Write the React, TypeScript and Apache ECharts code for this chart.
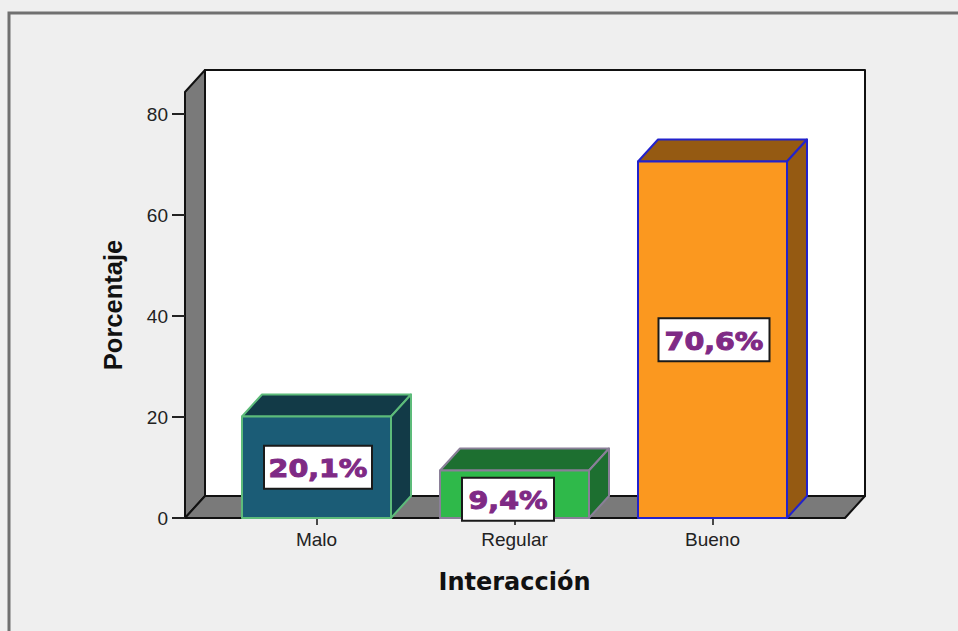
import React, { useEffect, useRef } from "react";
import * as echarts from "echarts";

const categories = ["Malo", "Regular", "Bueno"];
const porcentajes = [20.1, 9.4, 70.6];
const etiquetas = ["20,1%", "9,4%", "70,6%"];
const frontColors = ["#1B5C76", "#2FB94A", "#FB981F"];
const sideColors = ["#123A47", "#1D6F30", "#955A12"];
const edgeColors = ["#5DBB7A", "#8A7F98", "#2222CC"];
const labelDy = [0, 5, 0];
const labelDx = [0, -8, 0];
const labelW = [108, 92, 111];
const yTicks = [0, 20, 40, 60, 80];

const DX = 20;
const DY = 22;
const X0 = 185, X1 = 845, Y0 = 518, YT = 92;

function renderBar(params: any, api: any) {
  const i = api.value(0);
  const [cx, ty] = api.coord([i, api.value(1)]);
  const [, by] = api.coord([i, 0]);
  const [, my] = api.coord([i, api.value(1) / 2]);
  const w = api.size([1, 0])[0] * 0.7525;
  const l = cx - w / 2, r = cx + w / 2;
  const edge = { stroke: edgeColors[i], lineWidth: 2, lineJoin: "round" };
  const cy = my + labelDy[i];
  const tx = cx + labelDx[i];
  const lw = labelW[i];
  return {
    type: "group",
    children: [
      { type: "polygon", shape: { points: [[l, ty], [l + DX, ty - DY], [r + DX, ty - DY], [r, ty]] }, style: { fill: sideColors[i], ...edge } },
      { type: "polygon", shape: { points: [[r, ty], [r + DX, ty - DY], [r + DX, by - DY], [r, by]] }, style: { fill: sideColors[i], ...edge } },
      { type: "rect", shape: { x: l, y: ty, width: w, height: by - ty }, style: { fill: frontColors[i], ...edge } },
      { type: "rect", shape: { x: tx - lw / 2 + 1.5, y: cy - 21.5, width: lw, height: 43 }, style: { fill: "#FFFFFF", stroke: "#1A1A1A", lineWidth: 2 } },
      {
        type: "text",
        x: tx + 1.5,
        y: cy + 1,
        scaleX: 1.14,
        style: {
          text: etiquetas[i],
          fill: "#7F2A85",
          stroke: "#7F2A85",
          lineWidth: 1,
          font: "bold 25px 'DejaVu Sans'",
          align: "center",
          verticalAlign: "middle",
        },
      },
    ],
  };
}

export default function App() {
  const ref = useRef<HTMLDivElement>(null);
  useEffect(() => {
    document.body.style.margin = "0";
    document.body.style.background = "#EFEFEF";
    const chart = echarts.init(ref.current!, null, { renderer: "svg" });
    const wall = { stroke: "#111111", lineWidth: 2, lineJoin: "round" };
    chart.setOption({
      animation: false,
      backgroundColor: "#EFEFEF",
      grid: { left: 217.5, width: 594, top: YT, height: Y0 - YT },
      xAxis: {
        type: "category",
        data: categories,
        name: "Interacción",
        nameLocation: "middle",
        nameGap: 52,
        nameTextStyle: { fontFamily: "DejaVu Sans", fontWeight: "bold", fontSize: 24, color: "#111111" },
        axisLine: { show: false },
        axisTick: { show: true, alignWithLabel: true, length: 7, lineStyle: { color: "#111111", width: 1.5 } },
        axisLabel: { fontFamily: "Liberation Sans", fontSize: 19, color: "#222222", margin: 12 },
      },
      yAxis: {
        type: "value",
        min: 0,
        max: 84.36,
        interval: 20,
        offset: 32.5,
        name: "Porcentaje",
        nameLocation: "middle",
        nameGap: 59,
        nameRotate: 90,
        nameTextStyle: { fontFamily: "Liberation Sans", fontWeight: "bold", fontSize: 25.5, color: "#111111" },
        splitLine: { show: false },
        axisLine: { show: false },
        axisTick: { show: true, length: 13, lineStyle: { color: "#222222", width: 2 } },
        axisLabel: { fontFamily: "Liberation Sans", fontSize: 19, color: "#222222", margin: 17, showMaxLabel: false,
          formatter: (v: number) => (yTicks.includes(v) ? String(v) : "") },
      },
      graphic: [
        { type: "rect", z: 0, shape: { x: 9, y: 13, width: 960, height: 640 }, style: { fill: "#EFEFEF", stroke: "#707070", lineWidth: 3 } },
        { type: "rect", z: 0, shape: { x: X0 + DX, y: YT - DY, width: X1 - X0, height: Y0 - YT }, style: { fill: "#FFFFFF", ...wall } },
        { type: "polygon", z: 0, shape: { points: [[X0, YT], [X0 + DX, YT - DY], [X0 + DX, Y0 - DY], [X0, Y0]] }, style: { fill: "#7A7A7A", ...wall } },
        { type: "polygon", z: 0, shape: { points: [[X0, Y0], [X0 + DX, Y0 - DY], [X1 + DX, Y0 - DY], [X1, Y0]] }, style: { fill: "#7A7A7A", ...wall } },
      ],
      series: [
        {
          type: "custom",
          renderItem: renderBar,
          clip: false,
          data: porcentajes.map((v, i) => [i, v]),
          encode: { x: 0, y: 1 },
        },
      ],
    });
    return () => chart.dispose();
  }, []);
  return <div ref={ref} style={{ width: 958, height: 631, position: "absolute", left: 0, top: 0 }} />;
}
